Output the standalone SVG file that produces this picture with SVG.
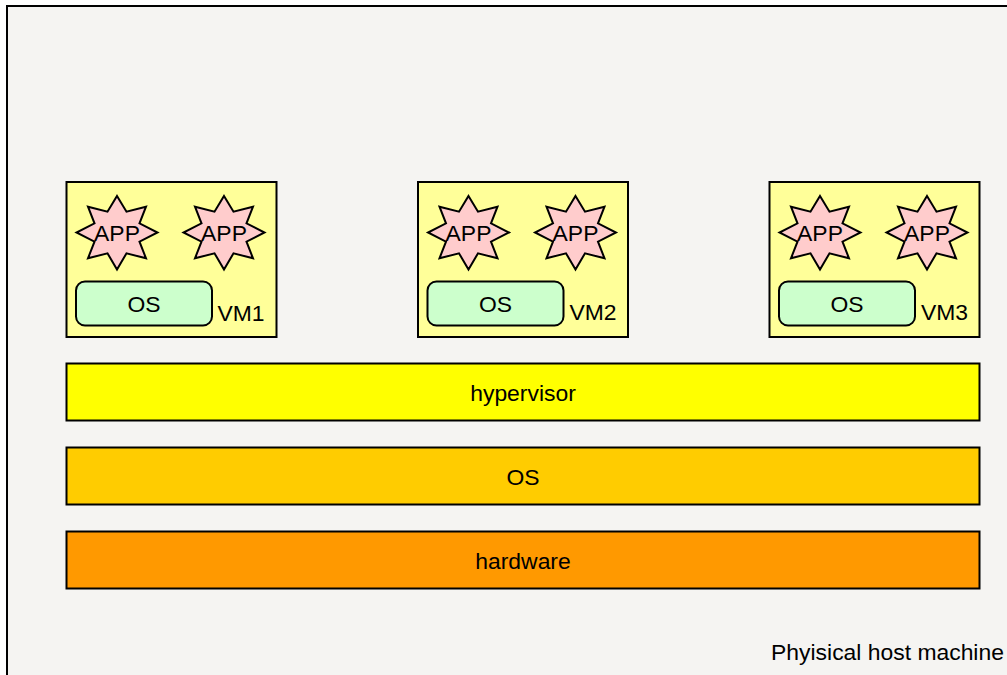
<svg xmlns="http://www.w3.org/2000/svg" width="1007" height="675" viewBox="0 0 1007 675">
<style>
text{font-family:"Liberation Sans",Arial,sans-serif;font-size:22.9px;fill:#000;text-anchor:middle}
.b{stroke:#000;stroke-width:2}
.vm{fill:#ffff99}
.star{fill:#ffcccc;stroke:#000;stroke-width:2;stroke-linejoin:miter}
.os{fill:#ccffcc}
</style>
<defs>
<polygon id="star" class="star" points="0,-36.500 9.500,-20.800 29,-25.800 22.500,-9.200 40.500,0 22.500,9.200 29,25.800 9.500,20.800 0,37 -9.500,20.800 -29,25.800 -22.500,9.200 -40.500,0 -22.500,-9.200 -29,-25.800 -9.500,-20.800"/>
</defs>
<rect width="1007" height="675" fill="#ffffff"/>
<g id="host">
<rect class="b" x="7" y="6" width="1010" height="680" fill="#f5f4f2"/>
<text x="887.500" y="660">Phyisical host machine</text>
</g>
<g id="vm1">
<rect class="b vm" x="66.500" y="182" width="210" height="155"/>
<use href="#star" x="117" y="232.500"/><text x="117" y="241">APP</text>
<use href="#star" x="224" y="232.500"/><text x="224" y="241">APP</text>
<rect class="b os" x="76" y="281.500" width="136" height="44" rx="9" ry="9"/>
<text x="144" y="312">OS</text>
<text x="241" y="321">VM1</text>
</g>
<g id="vm2">
<rect class="b vm" x="418" y="182" width="210" height="155"/>
<use href="#star" x="468.500" y="232.500"/><text x="468.500" y="241">APP</text>
<use href="#star" x="575.500" y="232.500"/><text x="575.500" y="241">APP</text>
<rect class="b os" x="427.500" y="281.500" width="136" height="44" rx="9" ry="9"/>
<text x="495.500" y="312">OS</text>
<text x="593" y="320">VM2</text>
</g>
<g id="vm3">
<rect class="b vm" x="769.500" y="182" width="210" height="155"/>
<use href="#star" x="820" y="232.500"/><text x="820" y="241">APP</text>
<use href="#star" x="927" y="232.500"/><text x="927" y="241">APP</text>
<rect class="b os" x="779" y="281.500" width="136" height="44" rx="9" ry="9"/>
<text x="847" y="312">OS</text>
<text x="944.500" y="320">VM3</text>
</g>
<g id="hypervisor">
<rect class="b" x="66.500" y="363.500" width="913" height="57" fill="#ffff00"/>
<text x="523" y="401">hypervisor</text>
</g>
<g id="host-os">
<rect class="b" x="66.500" y="447.500" width="913" height="57" fill="#ffcc00"/>
<text x="523" y="485">OS</text>
</g>
<g id="hardware">
<rect class="b" x="66.500" y="531.500" width="913" height="57" fill="#ff9900"/>
<text x="523" y="569">hardware</text>
</g>
<g id="connectors"/>
</svg>
